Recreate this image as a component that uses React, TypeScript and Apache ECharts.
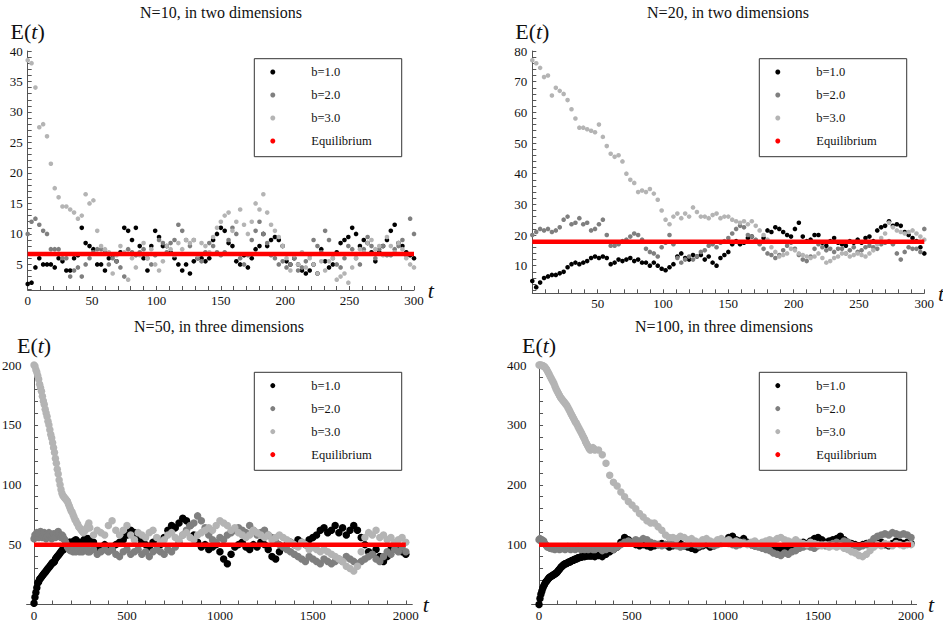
import React, { useEffect, useRef } from 'react';
import * as echarts from 'echarts';

// ---------- names & colours ----------
const SERIES_NAMES = ['b=1.0', 'b=2.0', 'b=3.0'];
const EQ_NAME = 'Equilibrium';
const SERIES_COLORS = ['#000000', '#7f7f7f', '#b4b4b4'];
const EQ_COLOR = '#ff0000';
const SERIF = 'Liberation Serif, Times New Roman, serif';

const TITLES = ['N=10, in two dimensions', 'N=20, in two dimensions', 'N=50, in three dimensions', 'N=100, in three dimensions'];

// ---------- panel 1: N=10, 2D (t = 0,3,...,300) ----------
const P1_STEP = 3;
const P1_B1 = [1.8, 2, 4.5, 6, 5, 5, 5, 4.5, 6, 5.5,
  4, 4, 6, 6.5, 11, 8.5, 8, 7.5, 5, 5,
  4, 6, 6.5, 5.5, 7, 11, 10.5, 9, 11, 8,
  6, 4, 8, 10.5, 9.5, 8, 8, 7, 6, 5,
  4, 5, 3.5, 5.5, 6, 6, 5.5, 6, 9, 10,
  11, 10.5, 8.5, 8, 5.5, 5, 6.5, 4.5, 6, 7.5,
  8, 10, 8, 9, 9.5, 9, 8, 5.5, 5, 6,
  5, 4, 3.5, 4, 5, 3.5, 7.5, 5.5, 4.5, 5,
  7, 8.5, 9, 9.5, 11, 10, 8, 9, 8.5, 7,
  5.5, 7, 8, 9, 10.5, 11.5, 8.5, 8, 7, 6.5,
  6];
const P1_B2 = [10, 12, 12.5, 11.5, 10.5, 10, 7.5, 7.5, 7.5, 6,
  6, 3, 4, 4.5, 3, 5, 6, 7, 7.5, 7.5,
  7, 5, 6, 5.5, 4.5, 3, 7.5, 7, 6.5, 7,
  7.5, 6, 5, 6.5, 9, 8.5, 7, 8.5, 9, 11.5,
  10.5, 9, 8, 9, 6, 5.5, 7, 8.5, 8, 7,
  6.5, 7, 9, 11, 10, 6, 5, 6.5, 9, 10.5,
  12, 10, 8.5, 6.5, 6, 5, 5.5, 4.5, 5, 6,
  4, 4.5, 5.5, 6.5, 9, 8, 7, 10.5, 9, 6,
  5, 4.5, 6, 8, 7.5, 6, 5, 7.5, 9.5, 8,
  6, 7.5, 8, 6.5, 6.5, 7.5, 8, 9, 6.5, 12.5,
  10];
const P1_B3 = [38.5, 38, 34, 27.5, 28, 26, 21.5, 17.5, 16, 14.5,
  14.5, 14, 13.5, 12.5, 13, 16.5, 15, 15.5, 10.5, 8,
  7.5, 7, 3.5, 6.5, 8, 7, 2.5, 6, 4.5, 6.5,
  8.5, 6, 7.5, 5, 4, 5.5, 8, 7.5, 6.5, 8.5,
  7.5, 9, 8.5, 9, 6.5, 8.5, 8, 7, 9.5, 11,
  12, 13, 13.5, 10.5, 12, 14, 11.5, 10, 12, 15,
  14, 16.5, 13.5, 11.5, 10.5, 9.5, 8, 6, 4, 6.5,
  5, 7, 4.5, 6, 5, 3.5, 5.5, 4, 5.5, 6,
  2.5, 3, 3.5, 2, 4.5, 6, 7.5, 7, 8.5, 9,
  7.5, 8, 6.5, 9.5, 8, 7, 8.5, 7.5, 6, 5,
  4.5];
const P1_EQ = 6.7;
const P1_X_LABELS = [0, 50, 100, 150, 200, 250, 300];
const P1_Y_LABELS = [5, 10, 15, 20, 25, 30, 35, 40];

// ---------- panel 2: N=20, 2D (t = 0,3,...,300) ----------
const P2_STEP = 3;
const P2_B1 = [5, 3, 4.5, 6, 6.5, 7, 7, 7.5, 8, 9.5,
  10.5, 11, 10.5, 11, 11.5, 12.5, 13, 12.5, 13, 12.5,
  10.5, 11, 12, 11.5, 12, 12.5, 11.5, 12, 11, 11,
  10, 11, 10, 9, 8.5, 9.5, 10.5, 13, 14, 12.5,
  12, 13.5, 13, 13.5, 12, 13, 11, 10, 12.5, 13.5,
  14.5, 17, 18, 17, 17.5, 19, 19.5, 18, 17.5, 19,
  21.5, 21, 22.5, 22, 21, 20, 19.5, 22, 24, 19.5,
  18, 18.5, 20, 20, 17.5, 16.5, 18, 19, 17.5, 17,
  16.5, 18, 17.5, 18.5, 17.5, 19, 19.5, 18, 21.5, 22.5,
  23, 24.5, 23, 23.5, 23, 21, 20, 19, 18, 16,
  14];
const P2_B2 = [20, 21, 22, 21.5, 22, 21, 21.5, 22.5, 25, 26,
  23.5, 24, 25.5, 23.5, 24, 21.5, 22, 23.5, 25, 20,
  16.5, 16.5, 17, 18, 18.5, 19.5, 20.5, 20, 18.5, 15.5,
  14.5, 14, 13, 16, 17.5, 20, 17, 12.5, 11, 12,
  13, 12, 13, 14.5, 15, 16.5, 17, 16, 17.5, 18,
  19, 20.5, 22, 23, 22.5, 20, 19.5, 18.5, 17, 15.5,
  14, 13.5, 12.5, 13.5, 15, 16.5, 17.5, 15.5, 13.5, 12,
  11.5, 13, 15.5, 17, 16, 15, 15.5, 14.5, 15.5, 15.5,
  14, 15, 16, 14.5, 15, 16, 16.5, 16, 15.5, 17,
  17.5, 18, 17, 14, 12, 14.5, 16, 15.5, 15.5, 14.5,
  22];
const P2_B3 = [77, 76, 74.5, 71.5, 72, 65.5, 68, 67, 66, 64,
  61, 58, 55, 55, 54.5, 54, 53.5, 56, 52, 49,
  46.5, 45.5, 46, 44, 40, 38, 37, 34, 34.5, 34,
  35, 33.5, 31.5, 28, 25, 23.5, 26, 27, 25.5, 27,
  26, 29, 27.5, 26, 26, 25.5, 26.5, 27, 25.5, 26,
  26, 25, 24.5, 24, 24.5, 23.5, 24.5, 23, 21.5, 20,
  18.5, 16, 14.5, 13, 13.5, 14, 15.5, 15, 14, 13.5,
  13, 12.5, 13, 14, 12.5, 11, 11.5, 12.5, 13, 14,
  14, 13, 13.5, 14, 13.5, 13, 14, 15, 17, 19,
  20.5, 24, 22.5, 21.5, 21, 20.5, 21, 21.5, 20.5, 19.5,
  18.5];
const P2_EQ = 17.8;
const P2_X_LABELS = [50, 100, 150, 200, 250, 300];
const P2_Y_LABELS = [10, 20, 30, 40, 50, 60, 70, 80];

// ---------- panels 3 & 4: early part t = 0,5,...,295 ; late part t = 300,320,...,2000 ----------
const EARLY_STEP = 5;
const LATE_START = 300;
const LATE_STEP = 20;

// panel 3: N=50, 3D
const P3_B1_EARLY = [1, 6, 10, 14, 18, 19, 21, 22, 23, 24,
  25, 26, 27, 28, 29, 30, 31, 32, 33, 34,
  35, 35, 36, 38, 39, 40, 41, 42, 43, 44,
  45, 46, 46, 47, 48, 49, 50, 51, 52, 52,
  51, 50, 52, 53, 52, 54, 53, 52, 51, 50,
  49, 51, 52, 53, 54, 55, 54, 53, 55, 54];
const P3_B1_LATE = [54, 52, 46, 48, 50,
  48, 46, 50, 52, 54, 58, 62, 60, 56, 52,
  50, 48, 52, 54, 50, 56, 62, 66, 64, 68,
  72, 70, 66, 58, 52, 48, 50, 46, 48, 50,
  44, 38, 34, 42, 48, 50, 52, 48, 46, 50,
  48, 52, 50, 46, 40, 38, 44, 48, 50, 52,
  50, 54, 52, 50, 54, 56, 58, 62, 64, 60,
  62, 66, 60, 64, 58, 62, 66, 62, 56, 50,
  44, 42, 46, 40, 36, 40, 46, 50, 48, 44,
  42];
const P3_B2_EARLY = [55, 58, 57, 60, 58, 56, 59, 61, 58, 56,
  57, 60, 58, 55, 57, 59, 60, 58, 56, 55,
  57, 59, 58, 56, 57, 60, 61, 59, 57, 56,
  58, 57, 55, 54, 52, 50, 48, 47, 46, 45,
  46, 45, 44, 46, 45, 44, 46, 47, 45, 44,
  46, 45, 44, 46, 48, 47, 46, 45, 44, 45];
const P3_B2_LATE = [44, 46, 42, 44, 46,
  44, 46, 42, 40, 44, 46, 42, 44, 46, 42,
  44, 40, 44, 46, 44, 42, 46, 44, 48, 52,
  58, 62, 66, 68, 74, 70, 64, 58, 54, 52,
  56, 54, 58, 60, 62, 64, 62, 60, 66, 62,
  58, 60, 62, 58, 56, 52, 50, 48, 46, 44,
  42, 40, 38, 36, 40, 38, 36, 34, 38, 36,
  34, 36, 38, 36, 40, 38, 36, 34, 36, 38,
  40, 42, 38, 36, 40, 44, 42, 46, 44, 48,
  44];
const P3_B3_EARLY = [200, 199, 196, 194, 191, 188, 184, 181, 178, 174,
  170, 167, 163, 160, 157, 153, 150, 146, 142, 139,
  135, 131, 127, 122, 118, 113, 109, 104, 100, 96,
  93, 91, 90, 89, 88, 87, 86, 84, 82, 80,
  78, 77, 75, 73, 71, 70, 68, 67, 65, 64,
  63, 62, 61, 60, 61, 62, 63, 64, 66, 68];
const P3_B3_LATE = [64, 58, 62, 60, 58,
  66, 70, 62, 58, 62, 66, 58, 54, 60, 58,
  56, 60, 62, 56, 52, 54, 58, 60, 56, 54,
  58, 60, 56, 54, 58, 60, 62, 64, 62, 66,
  70, 68, 66, 62, 64, 60, 58, 56, 58, 62,
  60, 58, 56, 58, 54, 56, 58, 56, 54, 52,
  50, 48, 52, 50, 46, 48, 46, 44, 46, 44,
  42, 40, 38, 36, 32, 30, 28, 32, 44, 56,
  60, 58, 62, 56, 58, 54, 56, 52, 54, 56,
  52];
const P3_EQ = 50;
const P3_X_LABELS = [0, 500, 1000, 1500, 2000];
const P3_Y_LABELS = [50, 100, 150, 200];

// panel 4: N=100, 3D
const P4_B1_EARLY = [0, 10, 17, 22, 27, 31, 34, 37, 39, 41,
  43, 45, 46, 47, 48, 49, 50, 51, 52, 53,
  55, 57, 59, 61, 63, 64, 66, 67, 68, 68,
  69, 70, 71, 71, 72, 73, 74, 74, 75, 76,
  76, 77, 78, 78, 79, 79, 80, 80, 81, 80,
  81, 82, 82, 81, 83, 82, 81, 82, 83, 82];
const P4_B1_LATE = [80, 82, 80, 84, 88,
  92, 96, 104, 112, 108, 104, 100, 98, 100, 98,
  96, 98, 100, 102, 100, 96, 98, 100, 102, 98,
  96, 94, 92, 96, 98, 100, 96, 98, 102, 104,
  106, 112, 114, 108, 106, 110, 104, 100, 98, 100,
  102, 98, 96, 94, 92, 94, 96, 92, 98, 102,
  100, 104, 102, 106, 110, 112, 108, 104, 106, 108,
  110, 114, 108, 104, 102, 100, 98, 100, 102, 98,
  100, 102, 104, 100, 98, 102, 106, 104, 102, 104,
  102];
const P4_B2_EARLY = [108, 110, 106, 108, 104, 106, 102, 100, 98, 96,
  97, 95, 94, 96, 93, 95, 94, 92, 94, 96,
  95, 93, 92, 94, 93, 95, 96, 94, 92, 93,
  95, 97, 95, 93, 92, 94, 96, 94, 93, 92,
  94, 95, 97, 95, 93, 92, 94, 96, 94, 92,
  93, 95, 94, 92, 93, 95, 96, 94, 92, 93];
const P4_B2_LATE = [92, 94, 90, 92, 94,
  92, 96, 100, 104, 106, 104, 108, 106, 110, 108,
  104, 102, 100, 98, 100, 102, 100, 98, 96, 98,
  100, 102, 100, 98, 100, 102, 100, 98, 100, 102,
  104, 102, 100, 98, 100, 104, 102, 100, 98, 96,
  94, 92, 90, 86, 84, 82, 86, 84, 88, 90,
  94, 96, 98, 96, 94, 98, 100, 98, 100, 102,
  104, 102, 106, 104, 100, 98, 96, 98, 100, 104,
  110, 114, 116, 118, 116, 120, 118, 116, 118, 116,
  112];
const P4_B3_EARLY = [400, 400, 400, 399, 399, 398, 397, 395, 393, 390,
  387, 384, 381, 378, 375, 372, 369, 365, 361, 358,
  355, 352, 349, 346, 344, 342, 340, 338, 336, 334,
  332, 329, 326, 323, 320, 317, 314, 311, 308, 305,
  303, 300, 297, 294, 291, 288, 285, 282, 279, 276,
  272, 269, 266, 263, 260, 258, 259, 261, 262, 260];
const P4_B3_LATE = [258, 258, 250, 236, 216, 204, 198, 188, 180, 172,
  166, 160, 152, 146, 140, 136, 136, 130, 124, 116,
  112, 112, 110, 114, 112, 108, 110, 106, 104, 108,
  110, 106, 104, 108, 110, 106, 108, 104, 106, 104,
  102, 100, 104, 106, 102, 104, 106, 108, 106, 110,
  112, 108, 106, 104, 108, 104, 102, 100, 104, 102,
  100, 98, 100, 96, 98, 96, 98, 94, 92, 88,
  86, 82, 80, 84, 90, 96, 100, 98, 102, 100,
  98, 102, 100, 98, 100, 100];
const P4_EQ = 100;
const P4_X_LABELS = [0, 500, 1000, 1500, 2000];
const P4_Y_LABELS = [100, 200, 300, 400];

// tick positions (every minor step)
function seq(a: number, b: number, s: number): number[] {
  const out: number[] = [];
  for (let v = a; v <= b + 1e-9; v += s) out.push(v);
  return out;
}

function uniform(vals: number[], step: number): number[][] {
  return vals.map((v, j) => [j * step, v]);
}
function twoPart(early: number[], late: number[]): number[][] {
  return early.map((v, j) => [j * EARLY_STEP, v]).concat(late.map((v, j) => [LATE_START + j * LATE_STEP, v]));
}

const PANELS = [
  {
    title: TITLES[0],
    series: [uniform(P1_B1, P1_STEP), uniform(P1_B2, P1_STEP), uniform(P1_B3, P1_STEP)],
    eq: P1_EQ, eqRange: [0, 300],
    xMin: 0, xMax: 300, yMin: 0.8, yMax: 40,
    xLabels: P1_X_LABELS, yLabels: P1_Y_LABELS, xTicks: seq(0, 300, 10), yTicks: seq(1, 40, 1),
    grid: { left: 27.7, top: 51, width: 386.3, height: 239 }, symbolSize: 4.6,
    titlePos: [221, 12], legendPos: [254.3, 58.7],
  },
  {
    title: TITLES[1],
    series: [uniform(P2_B1, P2_STEP), uniform(P2_B2, P2_STEP), uniform(P2_B3, P2_STEP)],
    eq: P2_EQ, eqRange: [0, 300],
    xMin: 0, xMax: 300, yMin: 1, yMax: 80,
    xLabels: P2_X_LABELS, yLabels: P2_Y_LABELS, xTicks: seq(10, 300, 10), yTicks: seq(2, 80, 2),
    grid: { left: 532.3, top: 51, width: 392, height: 242.3 }, symbolSize: 4.6,
    titlePos: [728, 12], legendPos: [759.3, 58.7],
  },
  {
    title: TITLES[2],
    series: [twoPart(P3_B1_EARLY, P3_B1_LATE), twoPart(P3_B2_EARLY, P3_B2_LATE), twoPart(P3_B3_EARLY, P3_B3_LATE)],
    eq: P3_EQ, eqRange: [0, 2000],
    xMin: -40, xMax: 2035, yMin: 0, yMax: 200,
    xLabels: P3_X_LABELS, yLabels: P3_Y_LABELS, xTicks: seq(0, 2000, 100), yTicks: seq(10, 200, 10),
    grid: { left: 26.6, top: 365, width: 385.7, height: 239.5 }, symbolSize: 7.5,
    titlePos: [219, 326], legendPos: [254.3, 372.3],
  },
  {
    title: TITLES[3],
    series: [twoPart(P4_B1_EARLY, P4_B1_LATE), twoPart(P4_B2_EARLY, P4_B2_LATE), twoPart(P4_B3_EARLY, P4_B3_LATE)],
    eq: P4_EQ, eqRange: [0, 2000],
    xMin: -40, xMax: 2030, yMin: 0, yMax: 400,
    xLabels: P4_X_LABELS, yLabels: P4_Y_LABELS, xTicks: seq(0, 2000, 100), yTicks: seq(20, 400, 20),
    grid: { left: 531.6, top: 365, width: 385, height: 239.5 }, symbolSize: 7.5,
    titlePos: [724, 326], legendPos: [759.3, 372.3],
  },
];

const AXIS_COLOR = '#555555';
const TEXT_COLOR = '#111111';
const LABEL_RICH = { s: { fontFamily: SERIF, fontSize: 13, color: TEXT_COLOR } };
const fmt = (v: number) => '{s|' + String(v) + '}';

function buildOption() {
  const grid: any[] = [];
  const xAxis: any[] = [];
  const yAxis: any[] = [];
  const series: any[] = [];
  const legend: any[] = [];
  const graphic: any[] = [];

  PANELS.forEach((p, i) => {
    grid.push({ ...p.grid, containLabel: false, outerBoundsMode: 'none' });
    xAxis.push({
      type: 'value', gridIndex: i, min: p.xMin, max: p.xMax,
      axisLine: { show: true, lineStyle: { color: AXIS_COLOR, width: 1 } },
      axisTick: { show: true, inside: true, length: 4, customValues: p.xTicks, lineStyle: { color: AXIS_COLOR } },
      minorTick: { show: false },
      axisLabel: {
        customValues: p.xLabels, formatter: fmt, rich: LABEL_RICH,
        color: TEXT_COLOR, fontFamily: SERIF, fontSize: 13, margin: 4,
        showMinLabel: true, showMaxLabel: true, hideOverlap: false,
      },
      splitLine: { show: false },
      name: 't', nameLocation: 'end', nameGap: 9,
      nameTextStyle: { fontFamily: SERIF, fontSize: 22, fontStyle: 'italic', color: TEXT_COLOR },
    });
    yAxis.push({
      type: 'value', gridIndex: i, min: p.yMin, max: p.yMax,
      axisLine: { show: true, lineStyle: { color: AXIS_COLOR, width: 1 } },
      axisTick: { show: true, inside: true, length: 4, customValues: p.yTicks, lineStyle: { color: AXIS_COLOR } },
      minorTick: { show: false },
      axisLabel: {
        customValues: p.yLabels, formatter: fmt, rich: LABEL_RICH,
        color: TEXT_COLOR, fontFamily: SERIF, fontSize: 13, margin: 5,
        showMinLabel: true, showMaxLabel: true, hideOverlap: false,
      },
      splitLine: { show: false },
      name: '{n|E(}{i|t}{n|)}', nameLocation: 'end', nameGap: 9,
      nameTextStyle: {
        fontFamily: SERIF,
        rich: {
          n: { fontFamily: SERIF, fontSize: 22, lineHeight: 22, color: TEXT_COLOR },
          i: { fontFamily: SERIF, fontSize: 22, lineHeight: 22, fontStyle: 'italic', color: TEXT_COLOR },
        },
      },
    });
    p.series.forEach((pts, k) => {
      series.push({
        type: 'scatter', name: SERIES_NAMES[k], xAxisIndex: i, yAxisIndex: i,
        data: pts,
        symbol: 'circle', symbolSize: p.symbolSize,
        itemStyle: { color: SERIES_COLORS[k], opacity: 1 },
        silent: true,
      });
    });
    series.push({
      type: 'line', name: EQ_NAME, xAxisIndex: i, yAxisIndex: i,
      data: [[p.eqRange[0], p.eq], [p.eqRange[1], p.eq]],
      symbol: 'none', lineStyle: { color: EQ_COLOR, width: 4.5 }, itemStyle: { color: EQ_COLOR },
      silent: true, z: 3,
    });
    legend.push({
      left: p.legendPos[0], top: p.legendPos[1], orient: 'vertical',
      padding: [6.3, 30, 8.7, 16], itemGap: 9, itemWidth: 5, itemHeight: 5,
      borderColor: '#333333', borderWidth: 1, backgroundColor: '#ffffff',
      selectedMode: false,
      formatter: (name: string) => '{s|' + name + '}',
      textStyle: {
        fontFamily: SERIF, fontSize: 12.5, color: TEXT_COLOR, lineHeight: 14, padding: [0, 0, 0, 31],
        rich: { s: { fontFamily: SERIF, fontSize: 12.5, lineHeight: 14, color: TEXT_COLOR } },
      },
      data: [...SERIES_NAMES, EQ_NAME].map((n) => ({ name: n, icon: 'circle' })),
    });
    graphic.push({
      type: 'text', x: p.titlePos[0], y: p.titlePos[1],
      style: { text: p.title, fontFamily: SERIF, fontSize: 16, fill: TEXT_COLOR, align: 'center', verticalAlign: 'middle' },
    });
  });

  return {
    animation: false, backgroundColor: '#ffffff',
    textStyle: { fontFamily: SERIF },
    grid, xAxis, yAxis, series, legend, graphic,
  };
}

export default function App() {
  const ref = useRef<HTMLDivElement>(null);
  useEffect(() => {
    if (!ref.current) return;
    const chart = echarts.init(ref.current, null, { renderer: 'svg' });
    chart.setOption(buildOption() as any);
    return () => chart.dispose();
  }, []);
  return <div ref={ref} style={{ position: 'absolute', left: 0, top: 0, width: 943, height: 623 }} />;
}
